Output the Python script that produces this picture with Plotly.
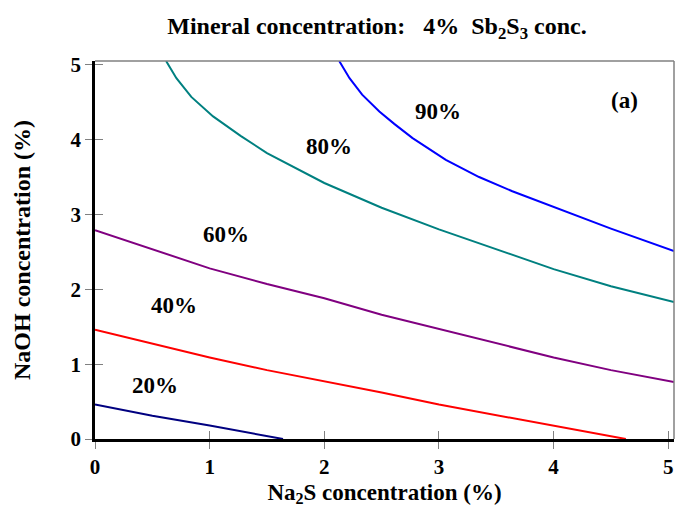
import plotly.graph_objects as go

# Iso-recovery contours: NaOH vs Na2S concentration, 4% Sb2S3
curve_names = ["20%", "40%", "60%", "80%", "90%"]
curve_colors = ["#000080", "#FF0000", "#800080", "#008080", "#0000FF"]

x_20 = [0.0, 0.5, 1.0, 1.64]
y_20 = [0.46, 0.31, 0.18, 0.0]

x_40 = [0.0, 0.5, 1.0, 1.5, 2.0, 2.5, 3.0, 3.5, 4.0, 4.63]
y_40 = [1.46, 1.27, 1.09, 0.92, 0.77, 0.62, 0.46, 0.32, 0.17, 0.0]

x_60 = [0.0, 0.5, 1.0, 1.5, 2.0, 2.5, 3.0, 3.5, 4.0, 4.5, 5.05]
y_60 = [2.79, 2.53, 2.28, 2.07, 1.88, 1.66, 1.47, 1.28, 1.09, 0.92, 0.76]

x_80 = [0.62, 0.71, 0.84, 1.03, 1.27, 1.5, 2.0, 2.5, 3.0, 3.5, 4.0, 4.5, 5.05]
y_80 = [5.05, 4.82, 4.57, 4.31, 4.05, 3.82, 3.42, 3.09, 2.80, 2.53, 2.27, 2.04, 1.83]

x_90 = [2.13, 2.22, 2.33, 2.48, 2.61, 2.77, 3.06, 3.35, 3.64, 3.93, 4.22, 4.5, 5.05]
y_90 = [5.05, 4.82, 4.60, 4.375, 4.21, 4.02, 3.73, 3.50, 3.31, 3.14, 2.98, 2.81, 2.51]

# Curve label positions (data coordinates)
label_x = [0.52, 0.69, 1.14, 2.04, 2.99]
label_y = [0.72, 1.79, 2.73, 3.91, 4.38]

tick_vals = [0, 1, 2, 3, 4, 5]
tick_text = ["0", "1", "2", "3", "4", "5"]
axis_range = [0, 5.05]

FONT = "Liberation Serif"

fig = go.Figure()
series = [(x_20, y_20), (x_40, y_40), (x_60, y_60), (x_80, y_80), (x_90, y_90)]
for (xs, ys), name, color in zip(series, curve_names, curve_colors):
    fig.add_trace(go.Scatter(x=xs, y=ys, mode="lines", name=name,
                             line=dict(color=color, width=2),
                             showlegend=False, hoverinfo="skip"))

# invisible trace on the overlay axes so their inner ticks are drawn
fig.add_trace(go.Scatter(x=[0], y=[0], xaxis="x2", yaxis="y2", mode="markers",
                         marker=dict(opacity=0), showlegend=False, hoverinfo="skip"))

label_font = dict(family=FONT, size=23, color="black", weight="bold")
for name, lx, ly in zip(curve_names, label_x, label_y):
    fig.add_annotation(x=lx, y=ly, xref="x", yref="y", text=name,
                       showarrow=False, font=label_font)

fig.add_annotation(x=4.62, y=4.52, xref="x", yref="y", text="(a)",
                   showarrow=False, font=label_font)

# grey frame on top and right
fig.add_shape(type="line", xref="paper", yref="paper", x0=0, x1=1, y0=1, y1=1,
              line=dict(color="#808080", width=1.5))
fig.add_shape(type="line", xref="paper", yref="paper", x0=1, x1=1, y0=0, y1=1,
              line=dict(color="#808080", width=1.5))

tick_font = dict(family=FONT, size=21, color="black", weight="bold")
fig.update_layout(
    width=675, height=509,
    margin=dict(l=95, r=1, t=61, b=70),
    paper_bgcolor="white", plot_bgcolor="white",
    title=dict(text="Mineral concentration:\u00a0\u00a0\u00a04%\u00a0\u00a0Sb<sub>2</sub>S<sub>3</sub> conc.",
               x=0.5585, xanchor="center", y=0.95, yanchor="middle",
               font=dict(family=FONT, size=24, color="black", weight="bold")),
    xaxis=dict(range=axis_range, tickvals=tick_vals, ticktext=tick_text,
               ticks="outside", ticklen=7, tickwidth=1.2, tickcolor="#808080",
               showline=True, linecolor="black", linewidth=2.5,
               showgrid=False, zeroline=False, tickfont=tick_font,
               title=dict(text="Na<sub>2</sub>S concentration (%)",
                          font=dict(family=FONT, size=23, color="black", weight="bold"),
                          standoff=6)),
    yaxis=dict(range=axis_range, tickvals=tick_vals, ticktext=tick_text,
               ticks="outside", ticklen=7, tickwidth=1.2, tickcolor="#808080",
               showline=True, linecolor="black", linewidth=2.5,
               showgrid=False, zeroline=False, tickfont=tick_font,
               title=dict(text="NaOH concentration (%)",
                          font=dict(family=FONT, size=24, color="black", weight="bold"),
                          standoff=34)),
    xaxis2=dict(range=axis_range, overlaying="x", tickvals=tick_vals,
                ticks="inside", ticklen=8, tickwidth=1.2, tickcolor="#808080",
                showticklabels=False, showline=False, showgrid=False, zeroline=False),
    yaxis2=dict(range=axis_range, overlaying="y", tickvals=tick_vals,
                ticks="inside", ticklen=8, tickwidth=1.2, tickcolor="#808080",
                showticklabels=False, showline=False, showgrid=False, zeroline=False),
)

fig.write_html("out.html")
